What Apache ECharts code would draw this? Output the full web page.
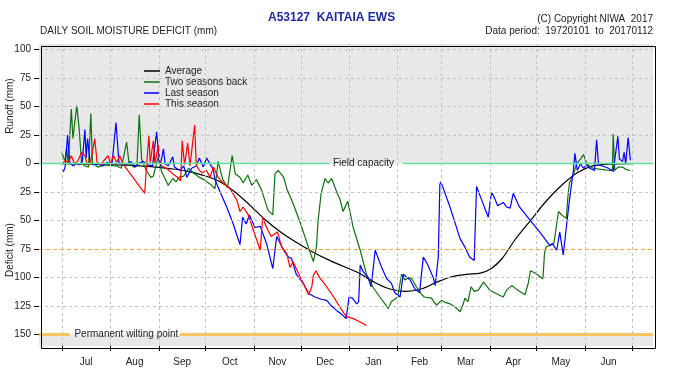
<!DOCTYPE html>
<html>
<head>
<meta charset="utf-8">
<script src="https://cdn.jsdelivr.net/npm/echarts@6/dist/echarts.min.js"></script>
<style>
html,body{margin:0;padding:0;background:#fff;}
#chart{width:700px;height:385px;}
</style>
</head>
<body>
<div id="chart"></div>
<script>
// ---- Data (day of season from 1 July, value: + = runoff/surplus, - = deficit) ----
const monthNames = ['Jul','Aug','Sep','Oct','Nov','Dec','Jan','Feb','Mar','Apr','May','Jun'];
const monthStarts = [0,31,62,92,123,153,184,215,243,274,304,335,365];
const yTickValues = [-150,-125,-100,-75,-50,-25,0,25,50,75,100];
const seriesNames = ['Average','Two seasons back','Last season','This season'];

const average = [[0,0],[15,-0.5],[30,-1],[45,-1.5],[60,-3],[70,-4.5],[80,-6.5],[90,-10],[100,-15],[110,-24],[120,-36],[130,-49],[140,-60],[150,-69],[160,-77],[170,-84],[180,-90],[190,-96],[200,-104],[210,-110],[220,-112],[230,-110],[240,-104],[250,-99],[260,-97],[268,-96],[275,-92],[282,-83],[290,-67],[300,-50],[310,-33],[320,-19],[330,-8],[340,-2],[350,-0.5],[365,0]];

const twoSeasonsBack = [[0,10],[1,5],[2,3],[3,14],[4,0],[6,48],[7,22],[9.5,51],[11,31],[12.6,0],[15,-2],[17,-3],[18.5,44],[19.5,1],[23,-3],[27,-1],[30,-1.5],[35,-2],[38,-4],[41.4,19],[43,0],[46,-3],[48,-2],[49.5,43],[51,4],[54,-6],[57,-12],[58.5,-11],[61.7,6],[63.8,-7],[66,-13],[68,-19],[71,-13],[73,-16],[75,-12],[78,-11],[81,-4],[84,-8],[88,-12],[91,-14],[95,-18],[98,-22],[100,2],[103,-14],[106,-21],[109,7],[111,-9],[114,-12],[116,-17],[119,-10],[121.5,-19],[124.6,-14],[127.8,-23],[132,-41],[135,-45],[136.4,-9],[138.5,-6],[142,-12],[144,-22],[148,-35],[152.4,-51],[157,-70],[161,-86],[163,-73],[164,-50],[166,-26],[168.5,-13],[170.5,-17],[172.7,-13],[176,-25],[178,-31],[180,-42],[183,-33],[186.5,-56],[191,-76],[195,-97],[199,-108],[203.6,-117],[209,-127],[211,-121],[215,-117],[217.5,-97],[219.6,-102],[222,-100],[224,-101],[227,-108],[230,-114],[232,-117],[236.7,-118],[238,-121],[240,-124],[243,-120],[246,-122],[248.5,-123],[252,-126],[255,-130],[257,-123],[258,-118],[260,-121],[262,-108],[264,-112],[266.6,-111],[270,-104],[274,-111],[278,-114],[282.6,-117],[284.7,-111],[288,-107],[290,-109],[293,-112],[296.5,-115],[298.6,-105],[300,-94],[303,-96],[306,-99],[308,-101],[309,-79],[310,-73],[312,-72],[315,-70],[318,-42],[320,-45],[323,-48],[324,-29],[325,-17],[327.5,-10],[329.6,0],[332,4],[334,8],[336,0],[338,-2],[340,-4],[345,-5],[351,-6],[352.5,-5],[353,26],[354,-6],[356,-3],[359,-3],[361,-5],[364,-6]];

const lastSeason = [[0,-5],[1,-7],[2,-3],[3.6,25],[5,1],[7,-2],[9,0],[11,-1],[13,2],[14.7,30],[15.5,5],[16.4,22],[18,1],[20,-1],[23,0],[26,-2],[29,1],[32,-1],[34.6,36],[36.5,1],[39,-1],[42,0],[44,2],[46.7,-3],[49,0],[52,2],[55,-1],[58,-2],[60.6,28],[62.7,-3],[65,13],[66,0],[68,-2],[71,6],[72,-3],[75.6,-6],[78,-2],[80,-12],[83,-4],[86,-2],[88,5],[90.5,-3],[92.6,5],[93.7,5],[96,-3],[97,-6],[98,-14],[101,-24],[105.5,-38],[109.7,-53],[114,-71],[115.7,-47],[118,-53],[120,-45],[123.6,-56],[127,-55],[131,-70],[135,-92],[137.5,-64],[142,-76],[145,-82],[147,-83],[150,-97],[154.6,-105],[158,-114],[162,-117],[166,-119],[169.5,-120],[172,-124],[176,-129],[179,-132],[182,-136],[183.8,-117],[186,-118],[188.7,-123],[190,-121],[191,-89],[193,-95],[196,-100],[198,-108],[200.6,-76],[204.7,-91],[208,-101],[211,-105],[213,-113],[216.5,-117],[218.6,-97],[221,-100],[223,-102],[226,-110],[229,-113],[231.4,-82],[234,-88],[237.8,-100],[239,-107],[241,-82],[242,-18],[242.7,-16],[248.5,-38],[255,-66],[258,-73],[261,-82],[264,-85],[265.5,-20],[268.8,-32],[273,-47],[275,-25],[277,-30],[279,-37],[282.6,-34],[284.7,-38],[287,-39],[289,-26],[293,-38],[300,-50],[306.5,-61],[312.5,-72],[314,-70],[316.8,-76],[318.8,-60],[321,-80],[323,-56],[325,-32],[327.5,-6],[328.5,9],[330,-6],[332,0],[334,-4],[336,-1],[338,-4],[341,-6],[342.4,21],[343.6,-1],[346,-2],[350,-4],[353,-7],[356,24],[357,4],[359,2],[360,10],[361,0],[362.6,23],[364,3]];

const thisSeason = [[0,-1],[1,-2],[2,3],[4,1],[6,7],[8,0],[10,2],[12.6,10],[14.7,7],[16,0],[18,-1],[21,22],[22.5,1],[25,-1],[27,3],[29.6,7],[31,0],[33,7],[35,1],[37,7],[39,0],[53,-26],[54,-5],[55.7,25],[56.5,1],[58.5,20],[59.5,0],[61.7,16],[62.7,1],[64,-2],[67,-4],[71,-9],[74,-12],[76,-15],[77,20],[78.5,-1],[80.5,18],[82,-2],[85,34],[86,-1],[88,-6],[90,-8],[92.6,-6],[94.8,-12],[97,-3],[100,-12],[103.3,-17],[107.6,-22],[112,-32],[114,-42],[116,-38],[119,-44],[122.5,-58],[127,-76],[128.5,-47],[131,-56],[134,-64],[138,-60],[140.7,-73],[144,-79],[146,-91],[148,-86],[150,-92],[153.5,-102],[158,-115],[160,-108],[161,-98],[162.7,-94],[165,-100],[169.5,-108],[174,-117],[178,-126],[182,-134],[186.6,-136],[191,-139],[195,-142]];

// ---- Chart ----
const FONT = "'Liberation Sans', Arial, Helvetica, sans-serif";
const monthMids = monthStarts.slice(0, 12).map((d, i) => (d + monthStarts[i + 1]) / 2);
const X_MIN = -14.7, X_MAX = 378.5, Y_MIN = -160, Y_MAX = 105;

const gridLineData = monthStarts.map(d => ({ xAxis: d }))
  .concat(yTickValues.filter(v => v !== 0 && v !== -75 && v !== -150).map(v => ({ yAxis: v })));

const chart = echarts.init(document.getElementById('chart'), null, { renderer: 'canvas' });
chart.setOption({
  animation: false,
  textStyle: { fontFamily: FONT },
  grid: { left: 39, right: 47, top: 44, bottom: 39, show: false },
  xAxis: {
    type: 'value', min: X_MIN, max: X_MAX, position: 'bottom',
    axisLine: { show: false, onZero: false },
    splitLine: { show: false },
    axisTick: { show: true, customValues: monthStarts, length: 5, lineStyle: { color: '#000' } },
    axisLabel: {
      show: true, customValues: monthMids, margin: 11, fontSize: 10, color: '#222', fontFamily: FONT,
      formatter: v => { const i = monthMids.indexOf(v); return i >= 0 ? monthNames[i] : ''; }
    }
  },
  yAxis: {
    type: 'value', min: Y_MIN, max: Y_MAX, position: 'left',
    axisLine: { show: false, onZero: false },
    splitLine: { show: false },
    axisTick: { show: true, customValues: yTickValues, length: 5, lineStyle: { color: '#000' } },
    axisLabel: {
      show: true, customValues: yTickValues, margin: 8, fontSize: 10, color: '#222', fontFamily: FONT,
      formatter: v => String(Math.abs(v))
    }
  },
  legend: {
    orient: 'vertical', left: 144, top: 66, padding: 0, icon: 'rect',
    itemWidth: 16, itemHeight: 1.5, itemGap: 1,
    selectedMode: false, data: seriesNames,
    textStyle: { fontSize: 10, color: '#222', lineHeight: 10, fontFamily: FONT, padding: [0, 0, 0, 0] }
  },
  graphic: [
    { type: 'text', left: 268, top: 12, style: { text: 'A53127  KAITAIA EWS', font: 'bold 12px ' + FONT, fill: '#1f2a9c' } },
    { type: 'text', right: 47, top: 14, style: { text: '(C) Copyright NIWA  2017', font: '10px ' + FONT, fill: '#222' } },
    { type: 'text', right: 47, top: 26, style: { text: 'Data period:  19720101  to  20170112', font: '10px ' + FONT, fill: '#222' } },
    { type: 'text', left: 40, top: 26, style: { text: 'DAILY SOIL MOISTURE DEFICIT (mm)', font: '10px ' + FONT, fill: '#222' } },
    { type: 'text', left: 63, top: 50, style: { text: 'Daily deficit (or surplus), 1\u2013July to 30\u2013June.  AWC = 150mm', font: '10px ' + FONT, fill: '#222' } },
    { type: 'text', x: 10, y: 106, rotation: Math.PI / 2, style: { text: 'Runoff (mm)', font: '10px ' + FONT, fill: '#222', align: 'center', verticalAlign: 'middle' } },
    { type: 'text', x: 10, y: 250, rotation: Math.PI / 2, style: { text: 'Deficit (mm)', font: '10px ' + FONT, fill: '#222', align: 'center', verticalAlign: 'middle' } },
    { type: 'rect', left: 39, top: 44, z: 100, shape: { width: 614, height: 302 }, style: { fill: 'none', stroke: '#000', lineWidth: 1 } }
  ],
  series: [
    {
      name: 'bg', type: 'line', data: [], z: 1, silent: true,
      markArea: { silent: true, itemStyle: { color: '#e8e8e8' },
        data: [[{ yAxis: 0 }, { yAxis: Y_MAX }], [{ yAxis: Y_MIN }, { yAxis: -150 }]] }
    },
    {
      name: 'gridlines', type: 'line', data: [], z: 2, silent: true,
      markLine: { silent: true, symbol: ['none', 'none'], label: { show: false },
        lineStyle: { color: '#c2c2c2', type: [3, 3], width: 1 }, data: gridLineData }
    },
    {
      name: 'refs', type: 'line', data: [], z: 3, silent: true,
      markLine: { silent: true, symbol: ['none', 'none'], label: { show: false },
        data: [
          [{ coord: [X_MIN, 0], lineStyle: { color: '#5be39a', width: 1.3, type: 'solid' } }, { coord: [171.5, 0] }],
          [{ coord: [218.5, 0], lineStyle: { color: '#5be39a', width: 1.3, type: 'solid' } }, { coord: [X_MAX, 0] }],
          { yAxis: -75, lineStyle: { color: '#f5a33a', width: 1.2, type: [4, 3] } },
          [{ coord: [X_MIN, -150], lineStyle: { color: '#f8c462', width: 3, type: 'solid' } }, { coord: [5, -150] }],
          [{ coord: [75.5, -150], lineStyle: { color: '#f8c462', width: 3, type: 'solid' } }, { coord: [X_MAX, -150] }]
        ] },
      markPoint: { silent: true, symbol: 'circle', symbolSize: 0,
        label: { show: true, position: 'right', distance: 0, fontSize: 10, color: '#222', fontFamily: FONT, formatter: '{b}' },
        data: [
          { name: 'Field capacity', coord: [173.5, 0] },
          { name: 'Permanent wilting point', coord: [8, -150] }
        ] }
    },
    { name: 'Average', type: 'line', data: average, z: 4, symbol: 'none', smooth: 0.3, lineStyle: { color: '#000', width: 1.2 }, itemStyle: { color: '#000' } },
    { name: 'Two seasons back', type: 'line', data: twoSeasonsBack, z: 4, symbol: 'none', lineStyle: { color: '#107010', width: 1.2 }, itemStyle: { color: '#107010' } },
    { name: 'Last season', type: 'line', data: lastSeason, z: 4, symbol: 'none', lineStyle: { color: '#0000ff', width: 1.2 }, itemStyle: { color: '#0000ff' } },
    { name: 'This season', type: 'line', data: thisSeason, z: 4, symbol: 'none', lineStyle: { color: '#ff0000', width: 1.2 }, itemStyle: { color: '#ff0000' } }
  ]
});
</script>
</body>
</html>
